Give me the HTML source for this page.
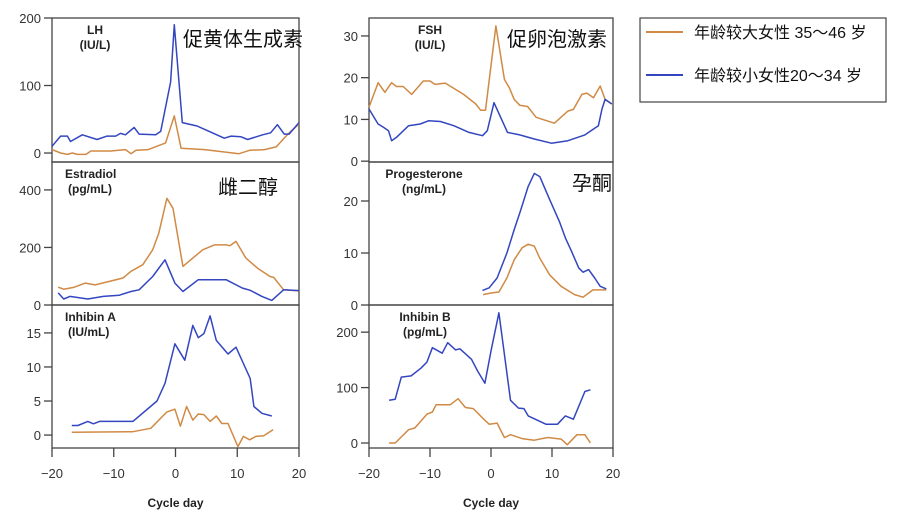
<!DOCTYPE html>
<html><head><meta charset="utf-8"><style>
html,body{margin:0;padding:0;background:#fff;}
svg{display:block;font-family:"Liberation Sans","Noto Sans CJK SC",sans-serif;}
.tk{font-size:13px;fill:#333;}
.ttl{font-size:12px;font-weight:bold;fill:#222;}
.cn{font-size:20px;fill:#111;font-family:"Liberation Sans","Noto Sans CJK SC",sans-serif;}
</style></head><body>
<svg id="c" width="908" height="526"></svg>
<script>
// ---- data ----
const lhBlueX=[-20,-18.6,-17.5,-17,-15.1,-12.7,-11.1,-9.7,-8.9,-8.1,-6.7,-5.9,-3.2,-2.4,-0.8,-0.2,1.1,3.5,7.9,9,10.6,11.7,14.1,15.4,16.5,17.6,18.4,20];
const lhBlueY=[10,25,25,17,27,20,25,25,29,27,38,28,27,32,105,190,45,40,22,25,24,20,27,30,42,28,28,45];
const lhOrX=[-20,-18.6,-17.5,-16.7,-15.9,-14.5,-13.7,-10.5,-8.1,-7.2,-6.4,-4.4,-1.6,-0.2,0.9,4.7,10.3,12,14.4,16.3,18.2,20];
const lhOrY=[5,0,-2,0,-2,-2,3,3,5,-1,4,5,15,55,7,5,-1,4,5,9,28,43];
const fshOrX=[-20,-18.5,-17.4,-16.3,-15.5,-14.4,-13,-11.1,-10,-9.2,-7.5,-4.5,-2.5,-1.7,-0.9,0.8,2.2,3,3.8,4.7,6,7.4,10.4,12.6,13.5,14.9,15.7,16.8,17.9,18.7,19.8];
const fshOrY=[12.9,18.8,16.5,18.8,17.9,17.9,16,19.2,19.2,18.4,18.7,16,13.7,12.2,12.2,32.4,19.6,17.6,14.8,13.4,13.1,10.5,9.1,12,12.4,16,16.3,15.2,18,14.8,13.7];
const fshBlX=[-20,-18.5,-17.6,-16.8,-16.3,-15.5,-13.5,-11.6,-10.2,-8.3,-6.1,-3.6,-1.4,-0.6,0.5,2.7,4.7,7.1,9.9,12.6,15.4,17.6,18.2,18.7,19.8];
const fshBlY=[12.5,8.9,8.1,7.3,4.9,5.7,8.5,8.9,9.7,9.5,8.5,6.9,6.1,7.3,14,6.9,6.3,5.3,4.3,4.9,6.3,8.5,12.5,14.8,13.7];
const e2OrX=[-19,-18.1,-16.5,-14.6,-13,-10.7,-8.5,-7.2,-5.3,-3.7,-2.7,-1.4,-0.4,1.2,2.8,4.4,6.3,8.2,8.8,9.8,11.4,13.3,15.3,15.9,17.5,19.4,20];
const e2OrY=[62,55,61,76,70,82,94,117,140,192,250,371,336,134,163,192,209,209,206,221,163,128,99,96,53,50,50];
const e2BlX=[-19,-18.1,-17.1,-14.2,-11.7,-9.1,-7.2,-5.9,-3.7,-1.7,-0.1,1.2,3.7,8.2,10.8,12.1,14,15.6,17.5,20];
const e2BlY=[42,21,30,21,30,34,47,53,99,157,76,47,88,88,59,51,30,16,53,50];
const pBlX=[-1.4,-0.3,1,2.6,3.8,4.8,6.1,7.1,8,9.6,11.2,12.2,13.1,14.4,15.1,16,17,17.9,18.9];
const pBlY=[2.8,3.3,5.2,10,14.5,18,22.8,25.3,24.7,20.3,16.1,12.9,10.6,7.1,6.3,6.8,5.2,3.6,3.1];
const pOrX=[-1.3,0,1.3,2.6,3.8,5.1,6.1,7.1,8,9.6,11.5,13.7,15.1,16.7,18.9];
const pOrY=[2,2.3,2.5,5.2,8.7,11,11.7,11.3,9,5.8,3.6,2,1.5,2.9,2.9];
const iaBlX=[-16.8,-15.8,-14.2,-13.3,-12.3,-6.9,-3,-1.7,-0.1,1.5,2.8,3.7,4.6,5.6,6.6,8.5,9.8,12.1,12.7,14,15.6];
const iaBlY=[1.4,1.4,2,1.65,2,2,5,7.6,13.4,11,16.1,14.3,14.9,17.5,13.9,11.9,12.9,8.3,4.2,3.2,2.8];
const iaOrX=[-16.8,-6.9,-4,-1.4,-0.1,0.8,1.8,2.8,3.7,4.6,5.6,6.6,7.5,8.5,10.1,11,12,13,14.3,15.8];
const iaOrY=[0.4,0.5,1,3.4,3.8,1.3,4.2,2.2,3.1,3,2,2.8,1.7,1.7,-1.7,-0.2,-0.7,-0.2,-0.1,0.8];
const ibBlX=[-16.7,-15.7,-14.7,-13.1,-11.5,-10.5,-9.6,-8,-7.1,-5.8,-5.1,-3.2,-2.2,-1,0,1.3,3.2,4.5,5.4,6.1,9,10.9,12.2,13.5,15.4,16.3];
const ibBlY=[77,79,119,121,135,146,172,162,181,168,170,151,130,108,166,235,77,63,62,49,34,34,49,43,93,96];
const ibOrX=[-16.7,-15.7,-13.5,-12.5,-10.5,-9.6,-9,-6.7,-5.4,-4.2,-2.9,-1,-0.3,1,2.2,3.2,5.1,7.1,9.3,11.5,12.5,14.1,15.4,16.3];
const ibOrY=[0,0,24,27,52,56,69,69,80,64,62,41,34,36,10,15,8,5,10,7,-3,15,15,0];
const xTicks=[-20,-10,0,10,20];

// ---- drawing ----
const NS="http://www.w3.org/2000/svg";
const svg=document.getElementById('c');
function mk(t,a,p){const e=document.createElementNS(NS,t);for(const k in a)e.setAttribute(k,a[k]);(p||svg).appendChild(e);return e;}
const OR="#d08a45", BL="#3346c0";
const panels=[
 {name:'lh',x0:52,x1:299,yt:18,yb:162,vt:200,vb:-13.3,ticks:[0,100,200],s:[[lhOrX,lhOrY,OR],[lhBlueX,lhBlueY,BL]],t:['LH','(IU/L)'],tx:95,cn:'促黄体生成素',cx:183,cy:46},
 {name:'estradiol',x0:52,x1:299,yt:162,yb:305,vt:497,vb:0,ticks:[0,200,400],s:[[e2OrX,e2OrY,OR],[e2BlX,e2BlY,BL]],t:['Estradiol','(pg/mL)'],tx:65,left:true,cn:'雌二醇',cx:218,cy:194},
 {name:'inhibin-a',x0:52,x1:299,yt:305,yb:448,vt:19.1,vb:-1.9,ticks:[0,5,10,15],s:[[iaOrX,iaOrY,OR],[iaBlX,iaBlY,BL]],t:['Inhibin A','(IU/mL)'],tx:65,left:true},
 {name:'fsh',x0:369,x1:613,yt:18,yb:162,vt:34.3,vb:-0.2,ticks:[0,10,20,30],s:[[fshOrX,fshOrY,OR],[fshBlX,fshBlY,BL]],t:['FSH','(IU/L)'],tx:430,cn:'促卵泡激素',cx:507,cy:46},
 {name:'progesterone',x0:369,x1:613,yt:162,yb:305,vt:27.5,vb:0,ticks:[0,10,20],s:[[pOrX,pOrY,OR],[pBlX,pBlY,BL]],t:['Progesterone','(ng/mL)'],tx:424,cn:'孕酮',cx:572,cy:190},
 {name:'inhibin-b',x0:369,x1:613,yt:305,yb:448,vt:249,vb:-9,ticks:[0,100,200],s:[[ibOrX,ibOrY,OR],[ibBlX,ibBlY,BL]],t:['Inhibin B','(pg/mL)'],tx:425},
];
panels.forEach(p=>{
  const g=mk('g',{});
  
  
  const X=d=>p.x0+(d+20)/40*(p.x1-p.x0);
  const Y=v=>p.yb-(v-p.vb)/(p.vt-p.vb)*(p.yb-p.yt);
  mk('rect',{x:p.x0,y:p.yt,width:p.x1-p.x0,height:p.yb-p.yt,fill:'none',stroke:'#444','stroke-width':1.3},g);
  p.ticks.forEach(v=>{const y=Y(v);
    mk('line',{x1:p.x0-8,x2:p.x0,y1:y,y2:y,stroke:'#444','stroke-width':1.3},g);
    const t=mk('text',{x:p.x0-11,y:y+5,'text-anchor':'end',class:'tk'},g);t.textContent=v;
    });
  p.s.forEach(([xs,ys,c],i)=>{
    const pts=xs.map((d,j)=>X(d).toFixed(1)+','+Y(ys[j]).toFixed(1)).join(' ');
    const pl=mk('polyline',{points:pts,fill:'none',stroke:c,'stroke-width':1.5,'stroke-linejoin':'round'},g);
    
    
  });
  const anchor=p.left?'start':'middle';
  const t1=mk('text',{x:p.tx,y:p.yt+16,'text-anchor':anchor,class:'ttl'},g);t1.textContent=p.t[0];
  
  const t2=mk('text',{x:p.tx+(p.left?3:0),y:p.yt+31,'text-anchor':anchor,class:'ttl'},g);t2.textContent=p.t[1];
  
  if(p.cn){const c=mk('text',{x:p.cx,y:p.cy,class:'cn'},g);c.textContent=p.cn;
    }
  if(p.yb===448){
    xTicks.forEach(d=>{const x=X(d);
      mk('line',{x1:x,x2:x,y1:448,y2:457,stroke:'#444','stroke-width':1.3},g);
      const t=mk('text',{x:x,y:478,'text-anchor':'middle',class:'tk'},g);t.textContent=d<0?'\u2212'+(-d):d;
      });
    const xt=mk('text',{x:(p.x0+p.x1)/2,y:507,'text-anchor':'middle',class:'ttl','font-size':'13'},g);xt.textContent='Cycle day';
    
  }
});
// legend
const lg=mk('g',{});


mk('rect',{x:640,y:18,width:246,height:84,fill:'#fff',stroke:'#444','stroke-width':1.2},lg);
[[OR,'年龄较大女性 35～46 岁',38],[BL,'年龄较小女性20～34 岁',81]].forEach(([c,s,y],i)=>{
  mk('line',{x1:646,x2:683,y1:y-6,y2:y-6,stroke:c,'stroke-width':2},lg);
  const t=mk('text',{x:694,y:y,'font-size':'16',fill:'#111'},lg);t.textContent=s;
  
  
});
</script>
</body></html>
